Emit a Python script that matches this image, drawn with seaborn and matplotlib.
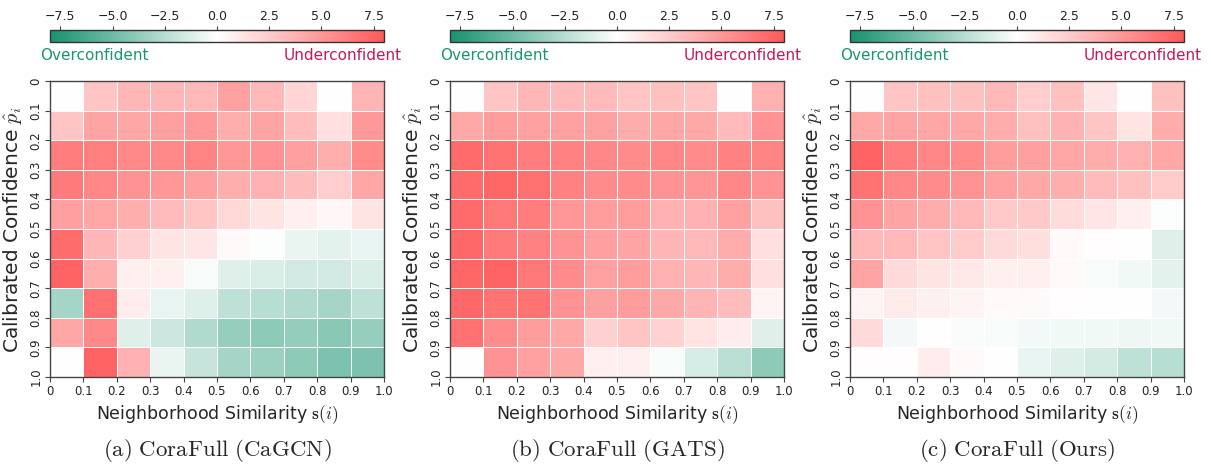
import numpy as np
import pandas as pd
import matplotlib
matplotlib.use("Agg")
import matplotlib.pyplot as plt
import seaborn as sns
from matplotlib.colors import LinearSegmentedColormap

sns.set_style("white")
plt.rcParams['font.family'] = ['DejaVu Sans']
plt.rcParams['mathtext.fontset'] = 'cm'

tick_labels = ["0", "0.1", "0.2", "0.3", "0.4", "0.5", "0.6", "0.7", "0.8", "0.9", "1.0"]
cbar_ticks = [-7.5, -5.0, -2.5, 0.0, 2.5, 5.0, 7.5]
titles = ["(a) CoraFull (CaGCN)", "(b) CoraFull (GATS)", "(c) CoraFull (Ours)"]

cagcn = [
    [0.0, 2.8, 3.5, 3.5, 3.4, 4.5, 3.4, 2.0, 0.0, 3.6],
    [2.8, 4.4, 4.3, 4.6, 4.9, 3.9, 4.4, 3.2, 1.5, 4.9],
    [6.3, 6.2, 5.7, 5.7, 5.9, 5.0, 5.3, 4.6, 3.9, 5.6],
    [6.4, 5.8, 5.3, 5.0, 4.6, 3.9, 3.8, 3.2, 2.4, 4.3],
    [4.6, 4.3, 3.9, 3.3, 2.8, 1.9, 1.3, 0.8, 0.4, 1.3],
    [7.1, 3.5, 2.3, 1.3, 1.2, 0.3, -0.1, -0.7, -1.0, -0.8],
    [7.6, 3.9, 0.8, 0.7, -0.3, -1.1, -1.3, -1.6, -1.6, -1.3],
    [-3.1, 6.9, 0.9, -0.8, -1.1, -2.2, -2.5, -2.7, -3.1, -2.2],
    [4.3, 5.7, -1.1, -1.8, -2.7, -3.6, -3.9, -3.7, -4.1, -3.6],
    [0.0, 7.6, 3.8, -0.7, -2.0, -3.1, -3.4, -3.9, -4.5, -4.5],
]

gats = [
    [0.0, 2.8, 3.5, 3.3, 3.3, 2.8, 3.0, 2.8, 0.0, 3.8],
    [4.2, 4.7, 4.5, 4.5, 4.5, 4.0, 4.3, 4.2, 3.3, 5.2],
    [7.2, 6.8, 6.3, 6.0, 5.8, 5.6, 5.8, 5.6, 6.0, 5.9],
    [7.2, 7.4, 6.9, 6.0, 5.6, 5.6, 5.3, 5.1, 5.8, 5.3],
    [7.2, 6.5, 6.3, 5.0, 4.8, 4.8, 3.8, 3.8, 4.5, 3.0],
    [7.3, 6.4, 6.0, 5.2, 4.6, 4.4, 3.6, 3.4, 4.0, 1.5],
    [7.4, 7.5, 6.5, 5.5, 4.5, 4.8, 3.8, 3.5, 4.0, 1.5],
    [7.3, 6.8, 6.8, 5.3, 4.6, 4.8, 4.2, 3.6, 3.2, 0.5],
    [6.9, 5.5, 4.8, 4.2, 2.3, 2.8, 2.2, 1.4, 0.9, -1.1],
    [0.0, 5.2, 4.5, 4.2, 0.8, 0.7, -0.3, -1.4, -2.4, -3.9],
]

ours = [
    [0.0, 2.8, 3.0, 3.0, 3.4, 2.4, 3.0, 1.2, 0.0, 3.0],
    [4.2, 4.4, 4.3, 4.2, 4.0, 3.0, 3.7, 2.8, 1.4, 4.0],
    [7.6, 6.3, 5.8, 5.6, 4.8, 4.6, 4.3, 4.0, 3.8, 4.3],
    [6.8, 5.8, 5.5, 5.2, 4.5, 4.2, 3.9, 3.3, 3.0, 2.5],
    [5.3, 4.4, 4.0, 3.4, 2.6, 2.6, 1.7, 1.2, 0.8, -0.1],
    [3.4, 3.4, 2.8, 2.5, 1.8, 1.6, 0.3, 0.1, 0.0, -1.1],
    [4.4, 1.8, 1.3, 1.1, 0.7, 0.8, 0.2, -0.3, -0.5, -1.0],
    [0.5, 1.0, 0.7, 0.5, 0.3, 0.2, 0.1, 0.0, 0.0, -0.4],
    [1.8, -0.4, 0.0, -0.2, -0.3, -0.4, -0.5, -0.5, -0.6, -0.5],
    [0.1, 0.1, 0.9, 0.2, 0.0, -0.8, -1.1, -1.5, -2.2, -2.5],
]

panels = [cagcn, gats, ours]

cmap = LinearSegmentedColormap.from_list("calib", ["#17936f", "#ffffff", "#ff5a5a"])
VMIN, VMAX = -8, 8

W, H = 1211, 466
fig = plt.figure(figsize=(W / 100, H / 100), dpi=100)

lefts = [50, 450, 850]
hm_w = 334
hm_top, hm_bot = 81, 377
cb_top, cb_bot = 30, 42

for i, data in enumerate(panels):
    L = lefts[i]
    ax = fig.add_axes([L / W, 1 - hm_bot / H, hm_w / W, (hm_bot - hm_top) / H])
    cax = fig.add_axes([L / W, 1 - cb_bot / H, hm_w / W, (cb_bot - cb_top) / H])
    df = pd.DataFrame(np.array(data))
    sns.heatmap(df, ax=ax, cmap=cmap, vmin=VMIN, vmax=VMAX, cbar=False,
                linewidths=0.55, linecolor="white", square=False)
    ax.set_xticks(np.arange(11))
    ax.set_xticklabels(tick_labels, rotation=0, fontsize=8.5, color="#222222")
    ax.set_yticks(np.arange(11))
    ax.set_yticklabels(tick_labels, rotation=90, fontsize=8.5, color="#222222", va="center")
    ax.tick_params(axis="both", which="both", length=3.5, width=0.8, color="#444444",
                   bottom=True, left=True, pad=2)
    for s in ax.spines.values():
        s.set_visible(True)
        s.set_color("#444444")
        s.set_linewidth(1.0)
    ax.set_xlabel(r"Neighborhood Similarity $\mathbf{s}(i)$", fontsize=12.5, labelpad=4)
    ax.set_ylabel(r"Calibrated Confidence $\hat{p}_i$", fontsize=14.5, labelpad=4)

    cb = fig.colorbar(ax.collections[0], cax=cax, orientation="horizontal", ticks=cbar_ticks)
    cax.xaxis.set_ticks_position("top")
    cax.xaxis.set_label_position("top")
    cax.set_xticklabels([f"{t:.1f}".replace("-", "\u2212") for t in cbar_ticks], fontsize=9, color="#222222")
    cax.tick_params(length=3, width=0.8, color="#444444", pad=2)
    cb.outline.set_edgecolor("#333333")
    cb.outline.set_linewidth(1.0)

    fig.text((L - 10) / W, 1 - 55 / H, "Overconfident", color="#1a9673", fontsize=11,
             ha="left", va="center")
    fig.text((L + hm_w + 18) / W, 1 - 55 / H, "Underconfident", color="#c2185b", fontsize=11,
             ha="right", va="center")
    fig.text((L + hm_w / 2) / W, 1 - 450 / H, titles[i].replace(" ", r"\ ").join(["$\\mathrm{", "}$"]),
             fontsize=16.5, ha="center", va="center")

fig.savefig("out.png", dpi=100)
